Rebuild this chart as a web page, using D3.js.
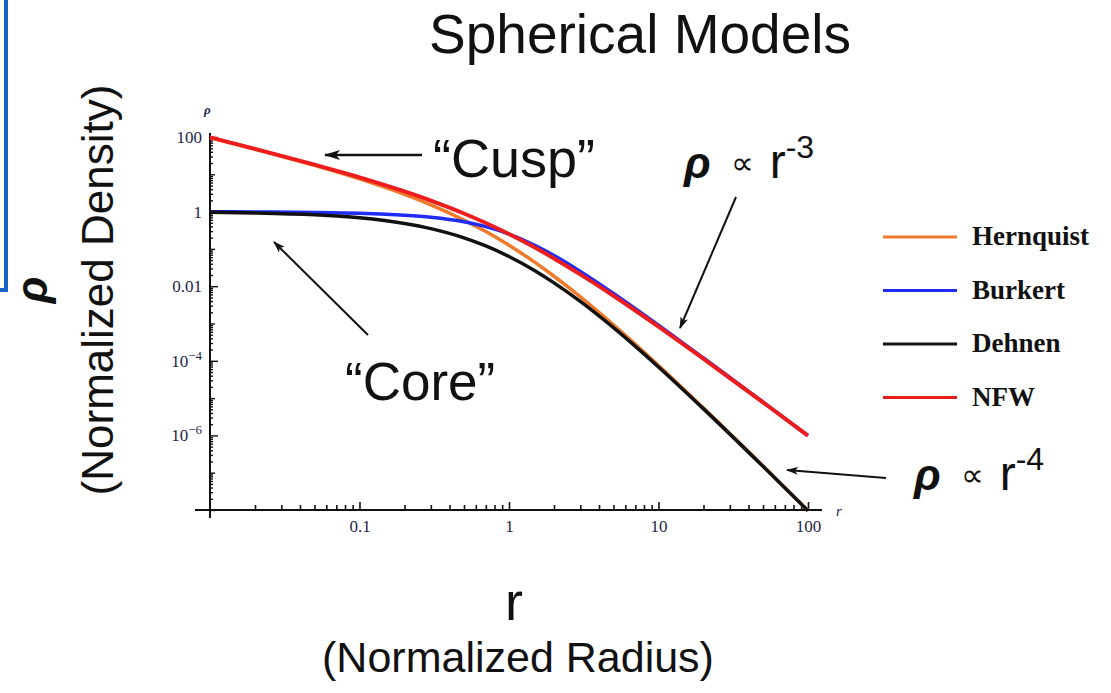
<!DOCTYPE html>
<html>
<head>
<meta charset="utf-8">
<script src="https://cdn.jsdelivr.net/npm/d3@7.9.0/dist/d3.min.js"></script>
<style>
  body { margin: 0; background: #fff; }
  svg { display: block; }
  .tick text { font-family: "Liberation Serif", "Times New Roman", serif; fill: #1e1e48; }
</style>
</head>
<body>
<svg id="chart" width="1111" height="693"></svg>
<script>
// radius samples (normalized) and density for each model
const radii = [0.01, 0.02, 0.05, 0.1, 0.2, 0.3, 0.5, 0.7, 1, 1.5, 2, 3, 5, 10, 20, 50, 100];
const hernquist = [97.1, 47.1, 17.3, 7.51, 2.89, 1.52, 0.593, 0.291, 0.125, 0.0427, 0.0185, 0.00521, 9.26e-4, 7.51e-5, 5.4e-6, 1.51e-7, 9.71e-9];
const burkert = [0.99, 0.98, 0.95, 0.9, 0.801, 0.706, 0.533, 0.395, 0.25, 0.123, 0.0667, 0.025, 0.00641, 9.0e-4, 1.19e-4, 7.84e-6, 9.9e-7];
const dehnen = [0.961, 0.924, 0.823, 0.683, 0.482, 0.35, 0.198, 0.12, 0.0625, 0.0256, 0.0123, 0.00391, 7.72e-4, 6.83e-5, 5.14e-6, 1.48e-7, 9.61e-9];
const nfw = [98.0, 48.1, 18.1, 8.26, 3.47, 1.97, 0.889, 0.494, 0.25, 0.107, 0.0556, 0.0208, 0.00556, 8.26e-4, 1.13e-4, 7.69e-6, 9.8e-7];

const modelNames = ["Hernquist", "Burkert", "Dehnen", "NFW"];
const modelColors = ["#f07a2a", "#1f2cf5", "#111111", "#ee1d1d"];

const xMajor = [0.1, 1, 10, 100];
const xMajorLabels = ["0.1", "1", "10", "100"];
const yMajor = [100, 1, 0.01, 1e-4, 1e-6];
const yMajorLabels = [["100"], ["1"], ["0.01"], ["10", "\u22124"], ["10", "\u22126"]];

const svg = d3.select("#chart");

// scales
const x = d3.scaleLog().domain([0.01, 100]).range([210, 808]);
const y = d3.scaleLog().domain([1e-8, 100]).range([510, 137]);

// blue frame fragment at the top left
svg.append("path")
  .attr("d", "M6,0 V290 H0")
  .attr("fill", "none")
  .attr("stroke", "#1a66c8")
  .attr("stroke-width", 4);

// minor tick values (2..9 multiples per decade)
const minorX = [];
for (let e = -2; e < 2; e++) for (let m = 2; m <= 9; m++) minorX.push(m * Math.pow(10, e));
const minorY = [];
for (let e = -8; e < 2; e++) for (let m = 2; m <= 9; m++) minorY.push(m * Math.pow(10, e));
const decadeY = d3.range(-8, 3).map((e) => Math.pow(10, e)).filter((v) => !yMajor.includes(v));

// x axis
const gx = svg.append("g").attr("transform", `translate(0,${y(1e-8)})`);
gx.append("g").call(d3.axisBottom(x).tickValues(minorX).tickSize(-5).tickFormat(""));
gx.append("g")
  .call(d3.axisBottom(x).tickValues(xMajor).tickSize(-8).tickPadding(10)
    .tickFormat((d, i) => xMajorLabels[i]));
gx.selectAll(".domain").remove();
gx.selectAll("line").attr("stroke", "#111").attr("stroke-width", 1.6);
gx.selectAll("text").attr("font-size", 17);
gx.append("line").attr("x1", 195).attr("x2", 822).attr("stroke", "#111").attr("stroke-width", 2);

// y axis
const gy = svg.append("g").attr("transform", `translate(${x(0.01)},0)`);
gy.append("g").call(d3.axisLeft(y).tickValues(minorY).tickSize(-3).tickFormat(""));
gy.append("g").call(d3.axisLeft(y).tickValues(decadeY).tickSize(-5).tickFormat(""));
const yAx = gy.append("g")
  .call(d3.axisLeft(y).tickValues(yMajor).tickSize(-8).tickPadding(8).tickFormat(""));
gy.selectAll(".domain").remove();
gy.selectAll("line").attr("stroke", "#111").attr("stroke-width", 1.4);
yAx.selectAll(".tick text").each(function (d, i) {
  const t = d3.select(this).attr("font-size", 17);
  const parts = yMajorLabels[i];
  t.append("tspan").text(parts[0]);
  if (parts[1]) t.append("tspan").attr("dy", -7).attr("font-size", 13).text(parts[1]);
});
gy.append("line").attr("y1", 133).attr("y2", 518).attr("stroke", "#111").attr("stroke-width", 2);

// axis end labels
svg.append("text").attr("x", 204).attr("y", 114)
  .attr("font-family", "Liberation Serif, serif").attr("font-style", "italic").attr("font-weight", "bold")
  .attr("font-size", 13).attr("fill", "#1e1e48").text("\u03c1");
svg.append("text").attr("x", 836).attr("y", 516)
  .attr("font-family", "Liberation Serif, serif").attr("font-style", "italic")
  .attr("font-size", 15).attr("fill", "#1e1e48").text("r");

// curves
const series = [hernquist, burkert, dehnen, nfw];
const line = d3.line()
  .x((d) => x(d[0]))
  .y((d) => y(d[1]))
  .curve(d3.curveMonotoneX);

series.forEach((vals, i) => {
  svg.append("path")
    .datum(radii.map((r, j) => [r, vals[j]]))
    .attr("d", line)
    .attr("fill", "none")
    .attr("stroke", modelColors[i])
    .attr("stroke-width", i === 3 ? 4 : 3.5)
    .attr("stroke-linejoin", "round");
});

// legend
const legend = svg.append("g");
modelNames.forEach((name, i) => {
  const yy = 237 + i * 53.5;
  legend.append("line")
    .attr("x1", 883).attr("x2", 957).attr("y1", yy).attr("y2", yy)
    .attr("stroke", modelColors[i]).attr("stroke-width", 3);
  legend.append("text")
    .attr("x", 972).attr("y", yy + 8)
    .attr("font-family", "Liberation Serif, Times New Roman, serif")
    .attr("font-weight", "bold").attr("font-size", 27).attr("fill", "#111")
    .text(name);
});

// arrows
const defs = svg.append("defs");
defs.append("marker")
  .attr("id", "head").attr("viewBox", "0 0 12 8").attr("refX", 11).attr("refY", 4)
  .attr("markerWidth", 12).attr("markerHeight", 8).attr("markerUnits", "userSpaceOnUse")
  .attr("orient", "auto")
  .append("path").attr("d", "M0,0 L12,4 L0,8 L3,4 Z").attr("fill", "#111");
defs.append("marker")
  .attr("id", "headBig").attr("viewBox", "0 0 16 10").attr("refX", 15).attr("refY", 5)
  .attr("markerWidth", 16).attr("markerHeight", 10).attr("markerUnits", "userSpaceOnUse")
  .attr("orient", "auto")
  .append("path").attr("d", "M0,0 L16,5 L0,10 L4,5 Z").attr("fill", "#111");

const arrows = [
  { x1: 422, y1: 155, x2: 325, y2: 155, w: 2.5, m: "headBig" },
  { x1: 368, y1: 335, x2: 274, y2: 242, w: 2, m: "head" },
  { x1: 736, y1: 197, x2: 680, y2: 328, w: 2, m: "head" },
  { x1: 886, y1: 478, x2: 787, y2: 470, w: 2, m: "head" }
];
arrows.forEach((a) => {
  svg.append("line")
    .attr("x1", a.x1).attr("y1", a.y1).attr("x2", a.x2).attr("y2", a.y2)
    .attr("stroke", "#111").attr("stroke-width", a.w)
    .attr("marker-end", `url(#${a.m})`);
});

const sans = "Liberation Sans, Arial, Helvetica, sans-serif";

// title and annotations
svg.append("text").attr("x", 640).attr("y", 53).attr("text-anchor", "middle")
  .attr("font-family", sans).attr("font-size", 55).attr("fill", "#111").text("Spherical Models");
svg.append("text").attr("x", 433).attr("y", 177)
  .attr("font-family", sans).attr("font-size", 54).attr("fill", "#111").text("\u201cCusp\u201d");
svg.append("text").attr("x", 345).attr("y", 400)
  .attr("font-family", sans).attr("font-size", 53).attr("fill", "#111").text("\u201cCore\u201d");

function powerLaw(px, py, exp) {
  const t = svg.append("text").attr("x", px).attr("y", py)
    .attr("font-family", sans).attr("fill", "#111");
  t.append("tspan").attr("font-weight", "bold").attr("font-style", "italic")
    .attr("font-size", 44).text("\u03c1");
  t.append("tspan").attr("dx", 20).attr("font-size", 32).attr("dy", -4).text("\u221d");
  t.append("tspan").attr("dx", 16).attr("font-size", 48).attr("dy", 4).text("r");
  t.append("tspan").attr("font-size", 32).attr("dy", -20).text(exp);
}
powerLaw(684, 178, "-3");
powerLaw(914, 490, "-4");

// axis titles
svg.append("text")
  .attr("transform", "translate(47,290) rotate(-90)")
  .attr("text-anchor", "middle")
  .attr("font-family", sans).attr("font-weight", "bold").attr("font-style", "italic")
  .attr("font-size", 44).attr("fill", "#111").text("\u03c1");
svg.append("text")
  .attr("transform", "translate(113,290) rotate(-90)")
  .attr("text-anchor", "middle")
  .attr("font-family", sans).attr("font-size", 44).attr("fill", "#111")
  .text("(Normalized Density)");
svg.append("text").attr("x", 514).attr("y", 620).attr("text-anchor", "middle")
  .attr("font-family", sans).attr("font-size", 54).attr("fill", "#111").text("r");
svg.append("text").attr("x", 518).attr("y", 672).attr("text-anchor", "middle")
  .attr("font-family", sans).attr("font-size", 43).attr("fill", "#111")
  .text("(Normalized Radius)");
</script>
</body>
</html>
